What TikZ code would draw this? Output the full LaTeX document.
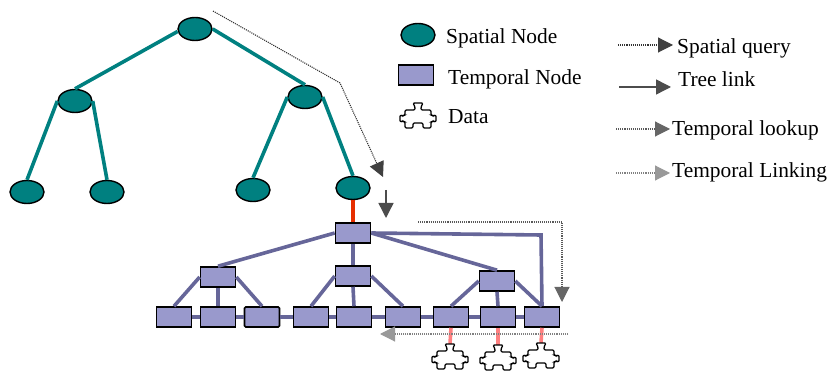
\documentclass[tikz,border=0pt]{standalone}
\usepackage{fontspec}
\setmainfont{Liberation Serif}
\usetikzlibrary{shapes.geometric,arrows.meta}
\definecolor{spatialteal}{HTML}{008080}
\definecolor{temporalfill}{HTML}{9999CC}
\definecolor{temporalline}{HTML}{666699}
\definecolor{redlink}{HTML}{E62E00}
\definecolor{pinklink}{HTML}{FF8080}
\tikzset{
  piece/.pic={
    \draw[black, line width=1.3pt, fill=white, rounded corners=1.2pt]
      (-13,-6) -- (-3,-6) -- (-3,-9) -- (-5,-13) -- (5,-13) -- (3,-9) -- (3,-6) -- (13,-6)
      -- (13,-1) -- (15,0) -- (18,-1) -- (18,6) -- (15,5) -- (13,6) -- (13,12) -- (5,12)
      -- (5,7) -- (-5,7) -- (-5,12) -- (-13,12) -- (-13,6) -- (-15,5) -- (-18,6) -- (-18,-1)
      -- (-15,0) -- (-13,-1) -- cycle;
  }
}
\begin{document}
\begin{tikzpicture}[
  x=1pt, y=-1pt,
  spatial/.style={draw=black, line width=1.4pt, fill=spatialteal, ellipse, inner sep=0pt,
    minimum width=34pt, minimum height=23pt},
  temporal/.style={draw=black, line width=1.6pt, fill=temporalfill, rectangle, inner sep=0pt,
    minimum width=35pt, minimum height=20pt},
  datanode/.style={inner sep=0pt, minimum width=36pt, minimum height=26pt},
  keytext/.style={inner sep=0pt, anchor=base west, font=\fontsize{21.4}{24}\selectfont},
  spatiallink/.style={spatialteal, line width=3.6pt},
  temporallink/.style={temporalline, line width=3.6pt},
  querylink/.style={black!80, densely dotted, line width=1.1pt,
    -{Triangle[length=15pt, width=15pt, color=black!75]}},
  lookuplink/.style={black!65, densely dotted, line width=1.1pt,
    -{Triangle[length=15pt, width=15pt, color=black!60]}},
  linkinglink/.style={black!50, densely dotted, line width=1.1pt,
    -{Triangle[length=15pt, width=15pt, color=black!40]}},
  treelink/.style={black!70, line width=1.4pt,
    -{Triangle[length=15pt, width=15pt, color=black!70]}}]

  \useasboundingbox (0,0) rectangle (830,371);

  \node[spatial] (root) at (195,29) {};
  \node[spatial] (sl) at (75,101) {};
  \node[spatial] (sr) at (305,97) {};
  \node[spatial] (sll) at (27,192) {};
  \node[spatial] (slr) at (107,192) {};
  \node[spatial] (srl) at (253,190) {};
  \node[spatial] (srr) at (353,188) {};

  \draw[spatiallink] (root.188) -- (sl.north);
  \draw[spatiallink] (root.east) -- (sr.north);
  \draw[spatiallink] (sl.west) -- (sll.north);
  \draw[spatiallink] (sl.east) -- (slr.north);
  \draw[spatiallink] (sr.west) -- (srl.north);
  \draw[spatiallink] (sr.east) -- (srr.north);

  \node[temporal] (t) at (353,233) {};
  \node[temporal] (ta) at (218,277) {};
  \node[temporal] (tb) at (353,276) {};
  \node[temporal] (tc) at (497,281) {};
  \foreach \i/\x/\r in {1/174/0,2/218/0,3/262/1.2,4/311/0,5/354/0,6/403/0,7/451/0,8/498/0,9/542/0}
    \node[temporal, rounded corners=\r pt] (l\i) at (\x,317) {};

  \foreach \i/\j in {1/2,2/3,3/4,4/5,5/6,6/7,7/8,8/9}
    \draw[temporallink] (l\i) -- (l\j);

  \draw[redlink, line width=3.6pt] (srr.south) -- (t.north);
  \draw[temporallink] (t.west) -- (ta.north);
  \draw[temporallink] (t.south) -- (tb.north);
  \draw[temporallink] (t.east) -- (tc.north);
  \coordinate (corner) at (541,235);
  \draw[temporallink] (t.east) -- (corner) -- (l9.north);

  \draw[temporallink] (ta.west) -- (l1.north);
  \draw[temporallink] (ta.south) -- (l2.north);
  \draw[temporallink] (ta.east) -- (l3.north);
  \draw[temporallink] (tb.west) -- (l4.north);
  \draw[temporallink] (tb.south) -- (l5.north);
  \draw[temporallink] (tb.east) -- (l6.north);
  \draw[temporallink] (tc.west) -- (l7.north);
  \draw[temporallink] (tc.south) -- (l8.north);
  \draw[temporallink] (tc.east) -- (l9.north);

  \foreach \i/\s/\x/\y in {1/7/450/357,2/8/498/358,3/9/541/356} {
    \node[datanode] (d\i) at (\x,\y) {};
    \draw[pinklink, line width=3.6pt] (l\s.south) -- (d\i.north);
    \pic at (d\i) {piece};
  }

  \coordinate (qa) at (213,11);
  \coordinate (qb) at (340,83);
  \coordinate (qc) at (383,177);
  \draw[querylink] (qa) -- (qb) -- (qc);
  \coordinate (da) at (386,190);
  \coordinate (db) at (386,218);
  \draw[treelink] (da) -- (db);
  \coordinate (la) at (418,222);
  \coordinate (lb) at (562,222);
  \coordinate (lc) at (562,302);
  \draw[lookuplink] (la) -- (lb) -- (lc);
  \coordinate (ka) at (568,334);
  \coordinate (kb) at (380,334);
  \draw[linkinglink] (ka) -- (kb);

  \node[spatial] (keyspatial) at (418,35) {};
  \node[temporal] (keytemporal) at (416,75) {};
  \node[datanode] (keydata) at (418,116) {};
  \pic at (keydata) {piece};
  \node[keytext] (txtspatial) at (446,44) {Spatial Node};
  \node[keytext] (txttemporal) at (448,85) {Temporal Node};
  \node[keytext] (txtdata) at (448,124) {Data};

  \coordinate (ea) at (618,45);
  \coordinate (eb) at (673,45);
  \draw[querylink] (ea) -- (eb);
  \node[keytext] (txtquery) at (677,54) {Spatial query};
  \coordinate (fa) at (619,87);
  \coordinate (fb) at (671,87);
  \draw[treelink] (fa) -- (fb);
  \node[keytext] (txttree) at (678,87) {Tree link};
  \coordinate (ga) at (616,129);
  \coordinate (gb) at (670,129);
  \draw[lookuplink] (ga) -- (gb);
  \node[keytext] (txtlookup) at (672,136) {Temporal lookup};
  \coordinate (ha) at (616,173);
  \coordinate (hb) at (670,173);
  \draw[linkinglink] (ha) -- (hb);
  \node[keytext] (txtlinking) at (672,178) {Temporal Linking};
\end{tikzpicture}
\end{document}
